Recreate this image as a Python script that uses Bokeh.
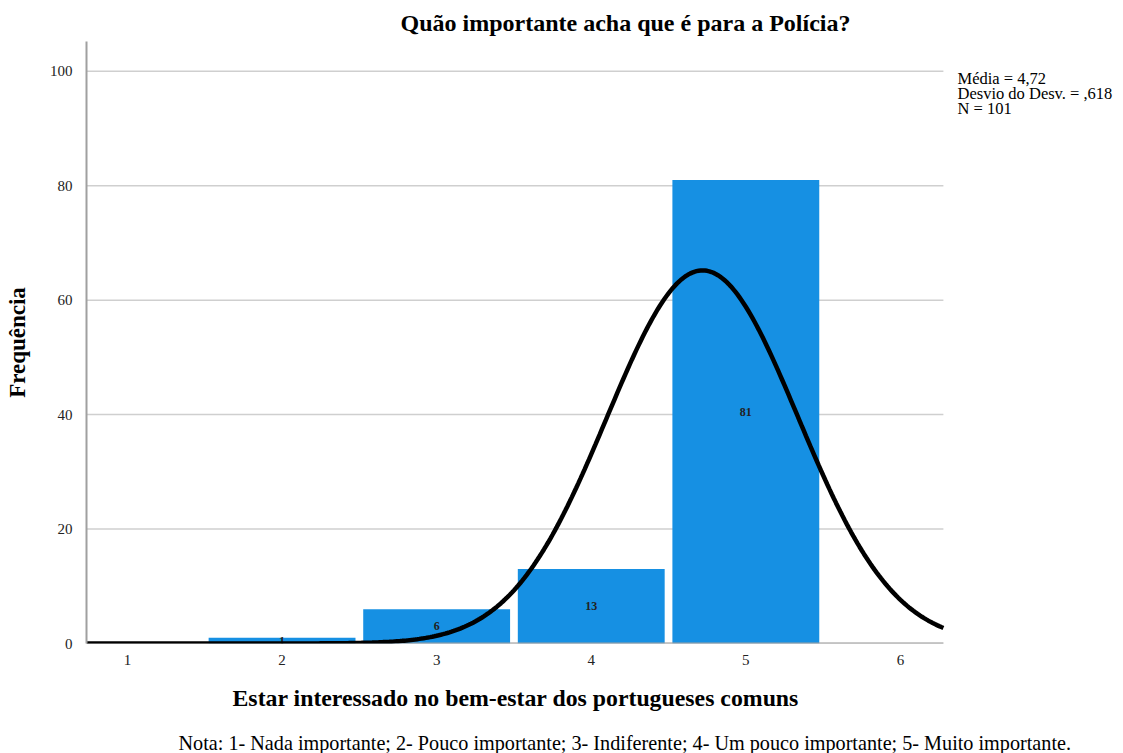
import numpy as np
from bokeh.plotting import figure
from bokeh.models import Range1d, FixedTicker, Label, ColumnDataSource, Title
from bokeh.core.properties import value
from bokeh.embed import file_html
from bokeh.resources import INLINE

# ---- data ----
categories = [1, 2, 3, 4, 5]
frequencies = [0, 1, 6, 13, 81]
mean_value = 4.72
std_value = 0.618
n_value = 101
x_ticks = [1, 2, 3, 4, 5, 6]
y_ticks = [0, 20, 40, 60, 80, 100]
title_text = "Quão importante acha que é para a Polícia?"
x_label = "Estar interessado no bem-estar dos portugueses comuns"
y_label = "Frequência"
stats_lines = ["Média = 4,72", " Desvio do Desv. = ,618", "N = 101"]
note_text = ("Nota: 1- Nada importante; 2- Pouco importante; 3- Indiferente; "
             "4- Um pouco importante; 5- Muito importante.")

FONT = "Liberation Serif"
X0, XEND = 0.735, 6.278      # visible axis extent
X1 = 7.443                   # frame extends right to hold the statistics text
Y0, Y1 = 0.0, 105.2

p = figure(frame_width=1037, frame_height=602, output_backend="svg", toolbar_location=None,
           x_range=Range1d(X0, X1), y_range=Range1d(Y0, Y1),
           min_border_left=86, min_border_right=0, min_border_top=41,
           min_border_bottom=110)
p.outline_line_color = None
p.background_fill_color = "white"

# grid lines (only across the axis extent)
p.segment(x0=[X0] * len(y_ticks), x1=[XEND] * len(y_ticks), y0=y_ticks, y1=y_ticks,
          line_color="#cfcfcf", line_width=1.5)

# bars
src = ColumnDataSource(dict(x=categories, top=frequencies,
                            mid=[f / 2 for f in frequencies],
                            lab=[str(f) if f > 0 else "" for f in frequencies]))
p.vbar(x="x", top="top", bottom=0, width=0.95, source=src,
       fill_color="#1690e3", line_color=None)
p.text(x="x", y="mid", text="lab", source=src, text_align="center",
       text_baseline="middle", text_font=value(FONT),
       text_font_size="12px", text_font_style="bold", text_color="#222222")

# x axis line
p.segment(x0=[X0], x1=[XEND], y0=[0], y1=[0], line_color="#a0a0a0", line_width=2)

# normal curve
xs = np.linspace(X0, XEND, 400)
ys = n_value / (std_value * np.sqrt(2 * np.pi)) * np.exp(-0.5 * ((xs - mean_value) / std_value) ** 2)
p.line(xs, ys, line_color="black", line_width=4.5)

# axes
for ax in (p.xaxis[0], p.yaxis[0]):
    ax.major_tick_line_color = None
    ax.minor_tick_line_color = None
    ax.major_label_text_font = FONT
    ax.major_label_text_font_size = "15px"
    ax.major_label_text_color = "#222222"
    ax.axis_label_text_font = FONT
    ax.axis_label_text_font_style = "bold"
    ax.axis_label_text_color = "black"
p.xaxis.axis_line_color = None
p.yaxis.axis_line_color = "#a0a0a0"
p.yaxis.axis_line_width = 2
p.xaxis.ticker = FixedTicker(ticks=x_ticks)
p.yaxis.ticker = FixedTicker(ticks=y_ticks)
p.yaxis.axis_label = y_label
p.yaxis.axis_label_text_font_size = "23px"
p.xaxis.major_label_standoff = 5
p.yaxis.major_label_standoff = 8
p.yaxis.axis_label_standoff = 17
p.xgrid.grid_line_color = None
p.ygrid.grid_line_color = None

# title
p.add_layout(Title(text=title_text, align="left", offset=314, text_font=FONT,
                   text_font_size="24px", text_font_style="bold",
                   text_color="black", standoff=12), "above")
# x axis label (as a title below the axis, positioned under the axis extent)
p.add_layout(Title(text=x_label, align="left", offset=146, text_font=FONT,
                   text_font_size="23.8px", text_font_style="bold",
                   text_color="black", standoff=30), "below")
# note
p.add_layout(Title(text=note_text, align="left", offset=92, text_font=FONT,
                   text_font_size="20.2px", text_font_style="normal",
                   text_color="black", standoff=8), "below")

# statistics
for i, s in enumerate(stats_lines):
    p.add_layout(Label(x=6.369, y=98.7 - i * 2.62, text=s, text_align="left",
                       text_baseline="middle", text_font=FONT,
                       text_font_size="16.5px", text_color="black"))

open("out.html", "w").write(file_html(p, INLINE))
